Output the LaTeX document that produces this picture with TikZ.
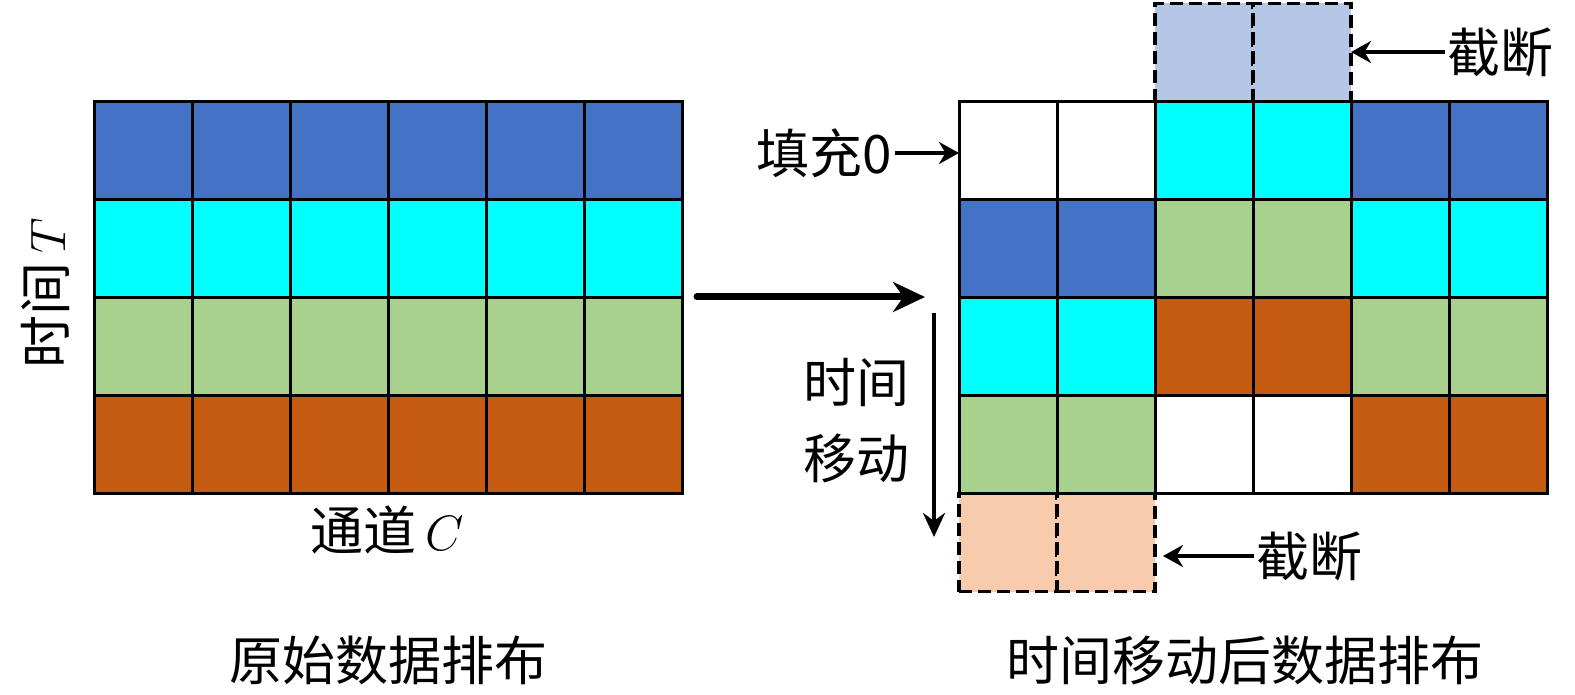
\documentclass[tikz,border=0pt]{standalone}
\usepackage{fontspec}
\newfontfamily\cjk{Noto Sans CJK SC}
\usetikzlibrary{arrows.meta}
\definecolor{cblue}{HTML}{4472C4}
\definecolor{ccyan}{HTML}{00FFFF}
\definecolor{cgreen}{HTML}{A9D18E}
\definecolor{corange}{HTML}{C55A11}
\definecolor{clblue}{HTML}{B4C7E7}
\definecolor{cpeach}{HTML}{F8CBAD}
\begin{document}
\begin{tikzpicture}[x=0.5pt,y=-0.5pt,
  cell/.style={draw=black,line width=1.5pt,minimum width=49pt,minimum height=49pt,inner sep=0pt,outer sep=0pt,anchor=north west},
  dcell/.style={cell,line width=1.6pt,dash pattern=on 6.5pt off 3pt},
  lbl/.style={font=\fontsize{26.5}{32}\selectfont\cjk,inner sep=0pt},
  thinarrow/.style={line width=2pt,-{Stealth[length=10pt,width=11pt]}}]
\useasboundingbox (0,0) rectangle (1575,695);
% left grid
\foreach \r/\col in {0/cblue,1/ccyan,2/cgreen,3/corange}{
  \foreach \i in {0,...,5}{
    \node[cell,fill=\col] (L-\r-\i) at ({94.5+98*\i},{101.5+98*\r}) {};
  }
}
% dashed truncated cells
\node[dcell,fill=clblue] (T-2) at ({959+98*2},3.5) {};
\node[dcell,fill=clblue] (T-3) at ({959+98*3},3.5) {};
\node[dcell,fill=cpeach] (B-0) at (959,493.5) {};
\node[dcell,fill=cpeach] (B-1) at ({959+98},493.5) {};
% right grid
\foreach \r/\a/\b/\c in {0/white/ccyan/cblue,1/cblue/cgreen/ccyan,2/ccyan/corange/cgreen,3/cgreen/white/corange}{
  \node[cell,fill=\a] (R-\r-0) at ({959+98*0},{101.5+98*\r}) {};
  \node[cell,fill=\a] (R-\r-1) at ({959+98*1},{101.5+98*\r}) {};
  \node[cell,fill=\b] (R-\r-2) at ({959+98*2},{101.5+98*\r}) {};
  \node[cell,fill=\b] (R-\r-3) at ({959+98*3},{101.5+98*\r}) {};
  \node[cell,fill=\c] (R-\r-4) at ({959+98*4},{101.5+98*\r}) {};
  \node[cell,fill=\c] (R-\r-5) at ({959+98*5},{101.5+98*\r}) {};
}
% labels
\node[lbl,rotate=90] (tT) at (45,293) {时间\,$T$};
\node[lbl] (tC) at (387,530) {通道\,$C$};
\node[lbl] (cap1) at (388,660) {原始数据排布};
\node[lbl] (cap2) at (1245,660) {时间移动后数据排布};
\node[lbl,align=center] (shift) at (856,421) {时间\\[6pt]移动};
\node[lbl] (fill0) at (824,153) {填充0};
\node[lbl] (cut1) at (1500,52) {截断};
\node[lbl] (cut2) at (1309,556) {截断};
% arrows
\coordinate (a1) at (697,297);
\coordinate (a2) at (925,297);
\draw[line width=3.5pt,line cap=round,-{Stealth[length=16pt,width=15pt]}] (a1) -- (a2);
\coordinate (v1) at (934,313);
\coordinate (v2) at (934,537);
\draw[line width=2pt,-{Stealth[length=12pt,width=11pt]}] (v1) -- (v2);
\draw[thinarrow] (fill0.east) ++(3,0) -- (R-0-0.west |- fill0.east);
\draw[thinarrow] (cut1.west) ++(-2,0) -- (T-3.east |- cut1.west);
\draw[thinarrow] (cut2.west) ++(-2,0) -- ([xshift=4pt]B-1.east |- cut2.west);
\end{tikzpicture}
\end{document}
